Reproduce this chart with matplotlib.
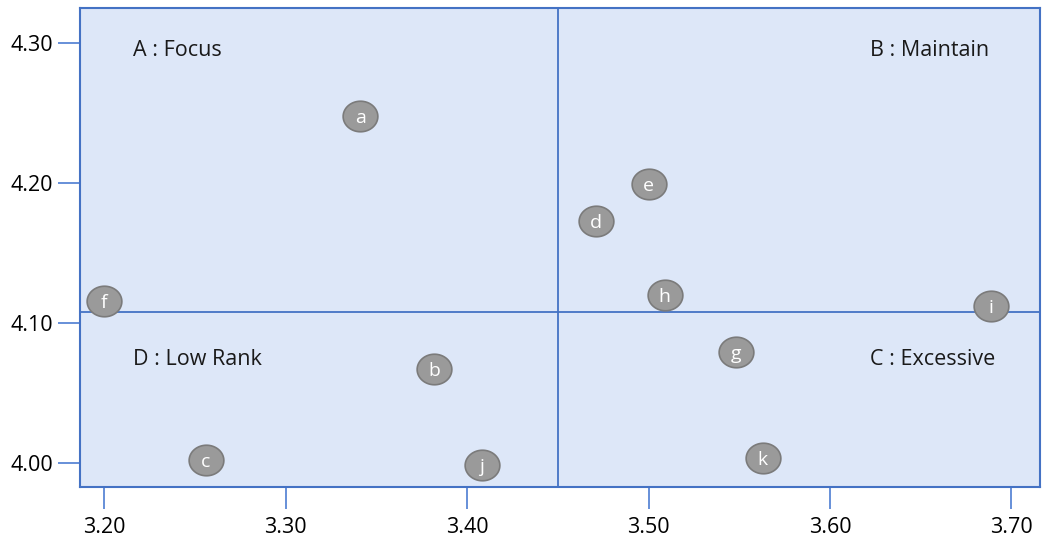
import numpy as np
import matplotlib.pyplot as plt
from matplotlib.path import Path

plt.rcParams['font.family'] = ['Open Sans', 'DejaVu Sans']

# item scores (x = importance/performance mean, y = second dimension)
labels = ['a', 'b', 'c', 'd', 'e', 'f', 'g', 'h', 'i', 'j', 'k']
x_vals = [3.341, 3.382, 3.256, 3.471, 3.500, 3.200, 3.548, 3.509, 3.689, 3.408, 3.563]
y_vals = [4.248, 4.067, 4.002, 4.173, 4.199, 4.116, 4.079, 4.120, 4.112, 3.999, 4.004]

x_mean = 3.45
y_mean = 4.108

x_ticks = [3.20, 3.30, 3.40, 3.50, 3.60, 3.70]
y_ticks = [4.00, 4.10, 4.20, 4.30]

quad_text = ['A : Focus', 'B : Maintain', 'C : Excessive', 'D : Low Rank']

blue = '#4472c4'

fig = plt.figure(figsize=(10.46, 5.38), dpi=100)
ax = fig.add_axes([80/1046, 1 - 487/538, 960/1046, 479/538])
ax.set_facecolor('#dde7f8')

ax.set_xlim(3.1866, 3.7158)
ax.set_ylim(3.983, 4.3248)

ax.axvline(x_mean, color=blue, lw=1.3, zorder=1)
ax.axhline(y_mean, color=blue, lw=1.3, zorder=1)

# slightly flattened ellipse marker
t = np.linspace(0, 2*np.pi, 60)
ell = Path(np.column_stack([np.cos(t), 0.88*np.sin(t)]), closed=True)
ax.scatter(x_vals, y_vals, marker=ell, s=25**2, facecolor='#9a9a9a',
           edgecolor='#7b7b7b', linewidth=1.2, zorder=3)
for lab, xv, yv in zip(labels, x_vals, y_vals):
    ax.text(xv, yv, lab, color='white', fontsize=14, ha='center',
            va='center_baseline', zorder=4)

tk = dict(transform=ax.transAxes, fontsize=15.5, va='center', color='#1a1a1a')
ax.text(0.055, 0.911, quad_text[0], **tk)
ax.text(0.823, 0.911, quad_text[1], **tk)
ax.text(0.823, 0.266, quad_text[2], **tk)
ax.text(0.055, 0.266, quad_text[3], **tk)

ax.set_xticks(x_ticks)
ax.set_xticklabels(['%.2f' % v for v in x_ticks])
ax.set_yticks(y_ticks)
ax.set_yticklabels(['%.2f' % v for v in y_ticks])
ax.tick_params(axis='x', length=15.5, width=1.3, color='#5b87d6', labelsize=15.5, pad=6)
ax.tick_params(axis='y', length=16, width=1.3, color='#5b87d6', labelsize=15.5, pad=3.5)

for s in ax.spines.values():
    s.set_color(blue)
    s.set_linewidth(1.5)

fig.savefig('out.png', dpi=100)
